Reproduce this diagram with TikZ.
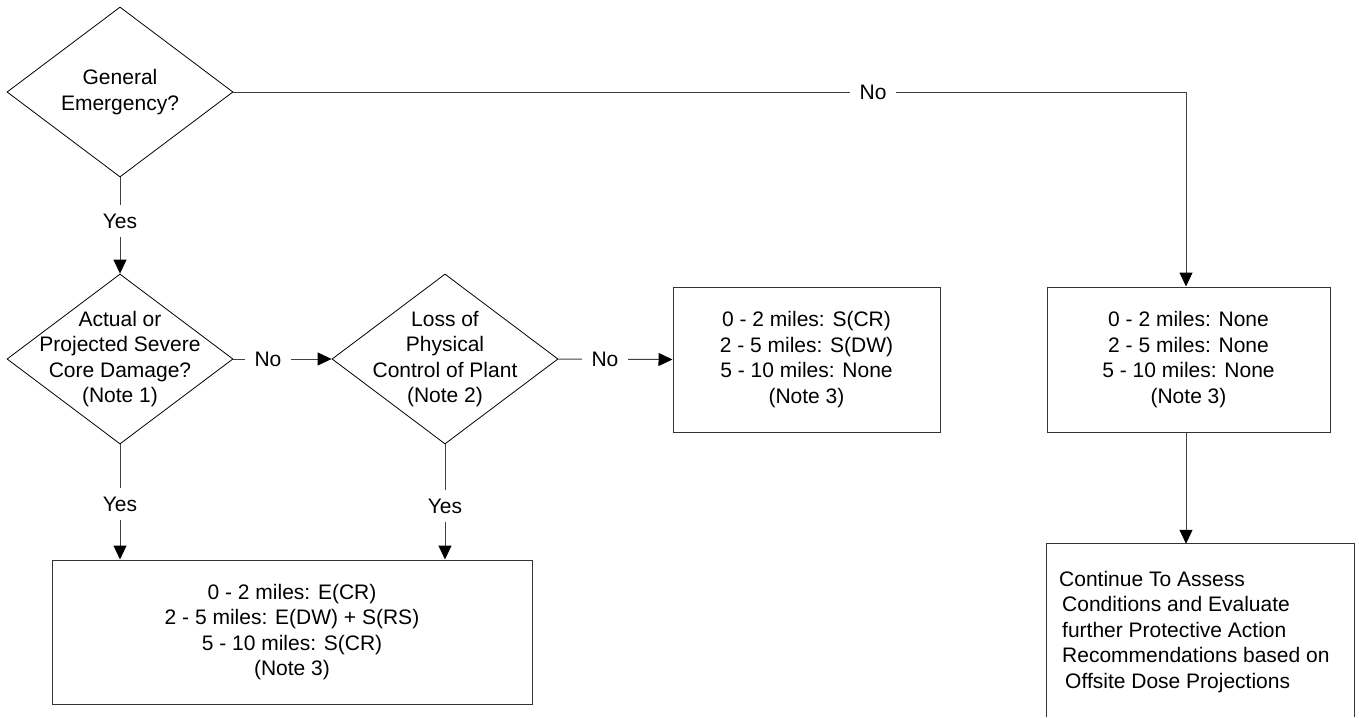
\documentclass[tikz,border=0pt]{standalone}
\usepackage{fontspec}
\setmainfont{Liberation Sans}
\usetikzlibrary{shapes.geometric,arrows.meta}
\begin{document}
\begin{tikzpicture}[x=1pt,y=-1pt,
  every node/.style={font=\fontsize{21pt}{25.5pt}\selectfont},
  diam/.style={shape=diamond,draw=black,line width=0.8pt,minimum width=226pt,minimum height=170pt,inner sep=0pt},
  dtext/.style={align=center,inner sep=0pt},
  box/.style={draw=black!80,line width=1pt,inner sep=0pt,align=center},
  conn/.style={draw=black!75,line width=1pt},
  arr/.style={conn,-{Triangle[length=14pt,width=13pt,color=black]}},
  lbl/.style={fill=white,inner xsep=10pt,inner ysep=9pt}]
\useasboundingbox (0,0) rectangle (1359,717);
% diamonds
\node[diam] (d1) at (120,92) {};
\node[dtext] (d1t) at (d1.center) {General\\Emergency?};
\node[diam] (d2) at (120,359) {};
\node[dtext] (d2t) at (d2.center) {Actual or\\Projected Severe\\Core Damage?\\(Note 1)};
\node[diam] (d3) at (445,359) {};
\node[dtext] (d3t) at (d3.center) {Loss of\\Physical\\Control of Plant\\(Note 2)};
% boxes
\node[box,minimum width=267pt,minimum height=145pt] (b1) at (806.5,359.5)
  {0 - 2 miles: S(CR)\\2 - 5 miles: S(DW)\\5 - 10 miles: None\\(Note 3)};
\node[box,minimum width=283pt,minimum height=145pt] (b2) at (1188.5,359.5)
  {0 - 2 miles: None\\2 - 5 miles: None\\5 - 10 miles: None\\(Note 3)};
\node[box,minimum width=480pt,minimum height=144pt] (b4) at (292,632)
  {0 - 2 miles: E(CR)\\2 - 5 miles: E(DW) + S(RS)\\5 - 10 miles: S(CR)\\(Note 3)};
\node[inner sep=0pt,minimum width=307pt,minimum height=173pt] (b3) at (1200.5,630.5) {};
\draw[draw=black!80,line width=1pt] (b3.south west) |- (b3.north east) -- (b3.south east);
\node[align=left,anchor=west,inner sep=0pt] (b3t) at (1059,632)
  {Continue To Assess\\\hspace*{3pt}Conditions and Evaluate\\\hspace*{3pt}further Protective Action\\\hspace*{3pt}Recommendations based on\\\hspace*{6pt}Offsite Dose Projections};
% connectors
\coordinate (c1) at (1186,92);
\draw[arr] (d1.south) -- (d2.north);
\draw[arr] (d2.east) -- (d3.west);
\draw[arr] (d3.east) -- (b1.west);
\draw[arr] (d1.east) -- (c1) -- (c1 |- b2.north);
\draw[arr] (c1 |- b2.south) -- (c1 |- b3.north);
\draw[arr] (d2.south) -- (d2.south |- b4.north);
\draw[arr] (d3.south) -- (d3.south |- b4.north);
% labels
\node[lbl] (l1) at (120,221) {Yes};
\node[lbl] (l2) at (268,359) {No};
\node[lbl] (l3) at (605,359) {No};
\node[lbl] (l4) at (873,92) {No};
\node[lbl] (l5) at (120,504) {Yes};
\node[lbl] (l6) at (445,506) {Yes};
\end{tikzpicture}
\end{document}
